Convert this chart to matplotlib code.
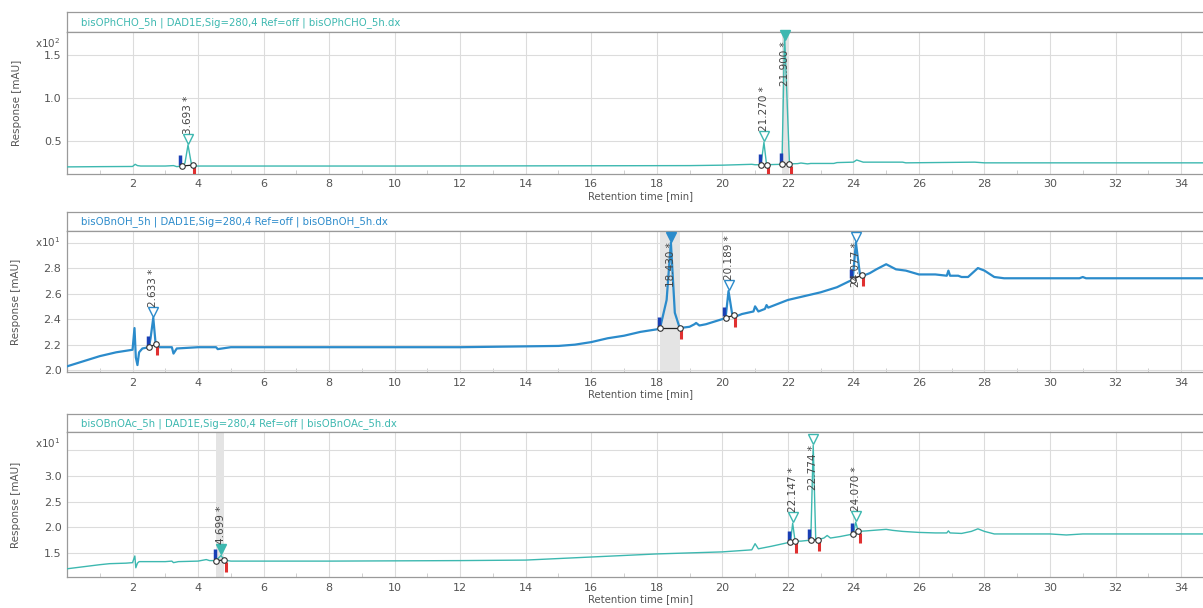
import numpy as np
import matplotlib.pyplot as plt

# panel 1 : bisOPhCHO_5h  (values in mAU)
t1 = [0.0, 1.0, 2.0, 2.08, 2.15, 2.25, 3.0, 3.25, 3.35, 3.5, 3.6, 3.693, 3.8, 3.9, 6.0,
      10.0, 16.0, 19.0, 20.0, 20.9, 21.0, 21.18, 21.27, 21.35, 21.6, 21.82, 21.9, 22.05, 22.3,
      22.4, 22.6, 22.7, 23.4, 23.5, 24.0, 24.1, 24.3, 25.5, 25.6, 27.7, 28.0, 34.7]
y1 = [20.5, 20.8, 21.0, 23.5, 22.0, 21.5, 21.5, 22.0, 20.8, 21.5, 25.0, 46.0, 23.0, 21.5, 21.5,
      21.5, 21.8, 22.0, 22.5, 23.5, 23.0, 23.0, 49.0, 23.0, 23.3, 23.5, 174.0, 24.0, 24.3,
      25.0, 24.0, 24.5, 24.5, 25.5, 26.0, 28.5, 26.0, 26.0, 25.2, 26.0, 25.2, 25.2]

# panel 2 : bisOBnOH_5h
t2 = [0.0, 0.5, 1.0, 1.5, 2.0, 2.06, 2.1, 2.15, 2.2, 2.3, 2.5, 2.55, 2.633, 2.7, 2.75,
      3.0, 3.2, 3.25, 3.35, 4.0, 4.55, 4.6, 5.0, 8.0, 12.0, 15.0, 15.5, 16.0, 16.5, 17.0,
      17.5, 18.0, 18.1, 18.3, 18.43, 18.55, 18.7, 19.0, 19.15, 19.2, 19.3, 19.5, 20.0, 20.1,
      20.189, 20.3, 20.4, 20.6, 20.95, 21.0, 21.1, 21.3, 21.35, 21.4, 21.5, 22.0, 22.5, 23.0,
      23.5, 23.98, 24.077, 24.2, 24.3, 24.5, 24.7, 25.0, 25.3, 25.6, 26.0, 26.5, 26.85, 26.9,
      26.95, 27.2, 27.3, 27.5, 27.8, 28.0, 28.3, 28.6, 29.0, 30.0, 30.9, 31.0, 31.1, 32.0, 34.7]
y2 = [20.3, 20.7, 21.1, 21.4, 21.6, 23.3, 21.0, 20.4, 21.4, 21.7, 21.8, 22.5, 24.1, 22.2, 21.8,
      21.8, 21.8, 21.3, 21.7, 21.8, 21.8, 21.65, 21.8, 21.8, 21.8, 21.9, 22.0, 22.2, 22.5, 22.7,
      23.0, 23.2, 23.3, 25.5, 30.0, 24.5, 23.3, 23.4, 23.6, 23.7, 23.5, 23.6, 24.0, 24.1,
      26.2, 24.4, 24.2, 24.4, 24.6, 25.0, 24.6, 24.8, 25.1, 24.9, 25.0, 25.5, 25.8, 26.1,
      26.5, 27.1, 30.0, 27.5, 27.4, 27.6, 27.9, 28.3, 27.9, 27.8, 27.5, 27.5, 27.4, 27.8,
      27.4, 27.4, 27.3, 27.3, 28.0, 27.8, 27.3, 27.2, 27.2, 27.2, 27.2, 27.3, 27.2, 27.2, 27.2]

# panel 3 : bisOBnOAc_5h
t3 = [0.0, 0.5, 1.0, 1.3, 1.8, 2.0, 2.07, 2.1, 2.15, 2.2, 2.4, 3.0, 3.2, 3.25, 3.4, 4.0,
      4.25, 4.35, 4.5, 4.55, 4.699, 4.8, 5.0, 5.5, 8.0, 12.0, 14.0, 15.0, 16.0, 17.0, 18.0,
      19.0, 20.0, 20.9, 21.0, 21.1, 21.5, 22.0, 22.08, 22.147, 22.22, 22.4, 22.7, 22.774,
      22.85, 22.92, 23.1, 23.2, 23.3, 23.6, 24.0, 24.07, 24.15, 24.4, 24.8, 25.0, 25.2,
      25.5, 26.0, 26.5, 26.85, 26.9, 26.95, 27.3, 27.6, 27.8, 28.0, 28.3, 29.0, 30.0, 30.5,
      31.0, 32.0, 34.7]
y3 = [11.9, 12.3, 12.7, 12.9, 13.0, 13.1, 14.4, 12.1, 13.0, 13.3, 13.3, 13.3, 13.4, 13.1,
      13.3, 13.4, 13.7, 13.5, 13.5, 13.5, 14.5, 13.6, 13.4, 13.4, 13.4, 13.5, 13.6, 13.9,
      14.2, 14.5, 14.8, 15.0, 15.2, 15.6, 16.8, 15.8, 16.3, 17.0, 17.1, 20.8, 17.3, 17.3,
      17.5, 36.0, 17.8, 17.6, 17.9, 18.4, 17.9, 18.2, 18.7, 21.0, 19.2, 19.3, 19.5, 19.6,
      19.4, 19.2, 19.0, 18.9, 18.9, 19.3, 18.9, 18.8, 19.2, 19.7, 19.2, 18.7, 18.7, 18.7,
      18.5, 18.7, 18.7, 18.7]

names = ['bisOPhCHO_5h', 'bisOBnOH_5h', 'bisOBnOAc_5h']
exps = [2, 1, 1]
ylims = [(0.124, 1.77), (1.985, 3.09), (1.03, 3.86)]
yticks = [[0.5, 1.0, 1.5], [2.0, 2.2, 2.4, 2.6, 2.8, 3.0], [1.5, 2.0, 2.5, 3.0, 3.5]]
ylabels_shown = [[0.5, 1.0, 1.5], [2.0, 2.2, 2.4, 2.6, 2.8], [1.5, 2.0, 2.5, 3.0]]

# peaks: retention time, start, end, label placed below triangle?, selected?
peaks1 = [(3.693, 3.5, 3.83, False, False), (21.270, 21.18, 21.35, False, False),
          (21.900, 21.82, 22.05, True, True)]
peaks2 = [(2.633, 2.5, 2.72, False, False), (18.430, 18.1, 18.7, True, True),
          (20.189, 20.1, 20.35, False, False), (24.077, 23.98, 24.25, True, False)]
peaks3 = [(4.699, 4.55, 4.8, False, True), (22.147, 22.08, 22.22, False, False),
          (22.774, 22.7, 22.92, True, False), (24.070, 24.0, 24.15, False, False)]

teal = '#3db8b0'
blue = '#2b8bcb'
colors = [teal, blue, teal]
lws = [1.0, 1.6, 1.0]

traces = [(t1, y1), (t2, y2), (t3, y3)]
allpeaks = [peaks1, peaks2, peaks3]

# figure rows: (strip bottom, strip height, axes bottom, axes height)
rows = [(0.947, 0.033, 0.714, 0.2336), (0.620, 0.031, 0.388, 0.232), (0.289, 0.030, 0.051, 0.2385)]
left = 0.0557
width = 1.0 - left

fig = plt.figure(figsize=(12.03, 6.08), dpi=100)
txtc = '#555555'

for i in range(3):
    sb, sh, ab, ah = rows[i]
    c = colors[i]
    # title strip
    st = fig.add_axes([left, sb, width + 0.01, sh])
    st.set_xticks([]); st.set_yticks([])
    for s in st.spines.values():
        s.set_color('#9a9a9a'); s.set_linewidth(0.9)
    st.text(0.012, 0.5, names[i] + ' | DAD1E,Sig=280,4 Ref=off | ' + names[i] + '.dx',
            transform=st.transAxes, va='center', ha='left', fontsize=7.3, color=c)

    ax = fig.add_axes([left, ab, width + 0.01, ah])
    scale = 10 ** exps[i]
    t = np.array(traces[i][0]); y = np.array(traces[i][1]) / scale
    ylo, yhi = ylims[i]
    ax.set_xlim(0, 34.67 * (width + 0.01) / width)
    ax.set_ylim(ylo, yhi)
    ax.set_xticks(np.arange(2, 36, 2))
    ax.set_xticks(np.arange(1, 36, 2), minor=True)
    ax.set_yticks(yticks[i])
    ax.set_yticklabels(['%.1f' % v if v in ylabels_shown[i] else '' for v in yticks[i]])
    ax.grid(True, which='major', color='#dcdcdc', lw=0.8)
    ax.set_axisbelow(True)
    ax.tick_params(which='major', length=0, labelsize=8, colors=txtc, pad=4)
    ax.tick_params(which='minor', length=3, direction='in', color='#c8c8c8')
    for s in ['left', 'bottom', 'top']:
        ax.spines[s].set_color('#9a9a9a'); ax.spines[s].set_linewidth(0.9)
    ax.spines['right'].set_visible(False)
    ax.set_xlabel('Retention time [min]', fontsize=7.3, color=txtc, labelpad=1)
    ax.set_ylabel('Response [mAU]', fontsize=7.5, color=txtc, labelpad=16)
    ax.text(-0.028, 0.92, r'x10$^{%d}$' % exps[i], transform=ax.transAxes,
            ha='left', va='center', fontsize=7.5, color=txtc)

    ax.plot(t, y, color=c, lw=lws[i], zorder=3)

    dy = (yhi - ylo) * 0.07
    for rt, s0, s1, below, sel in allpeaks[i]:
        if sel:
            ax.axvspan(s0, s1, color='#e4e4e4', zorder=1, lw=0)
        yb0 = np.interp(s0, t, y); yb1 = np.interp(s1, t, y)
        ya = np.interp(rt, t, y)
        ax.plot([s0, s1], [yb0, yb1], color='#222222', lw=0.9, zorder=4)
        ax.vlines(s0 - 0.04, yb0 + 0.15 * dy, yb0 + 1.1 * dy, color='#1a3fb5', lw=2.5, zorder=5)
        ax.vlines(s1 + 0.04, yb1 - 0.2 * dy, yb1 - 1.15 * dy, color='#e03030', lw=2.2, zorder=5)
        ax.plot([s0, s1], [yb0, yb1], 'o', ms=4, mfc='white', mec='#333333', mew=0.8, zorder=6)
        ty = min(ya + 0.6 * dy, yhi - 0.35 * dy)
        ax.plot([rt], [ty], 'v', ms=7, mfc=c if sel else 'white', mec=c, mew=1.0, zorder=6,
                clip_on=False)
        lab = '%.3f *' % rt
        if below:
            ax.text(rt, ty - 0.6 * dy, lab, rotation=90, ha='center', va='top',
                    fontsize=7.5, color='#444444', zorder=7)
        else:
            ax.text(rt, ty + 0.5 * dy, lab, rotation=90, ha='center', va='bottom',
                    fontsize=7.5, color='#444444', zorder=7)

fig.savefig('out.png', dpi=100)
